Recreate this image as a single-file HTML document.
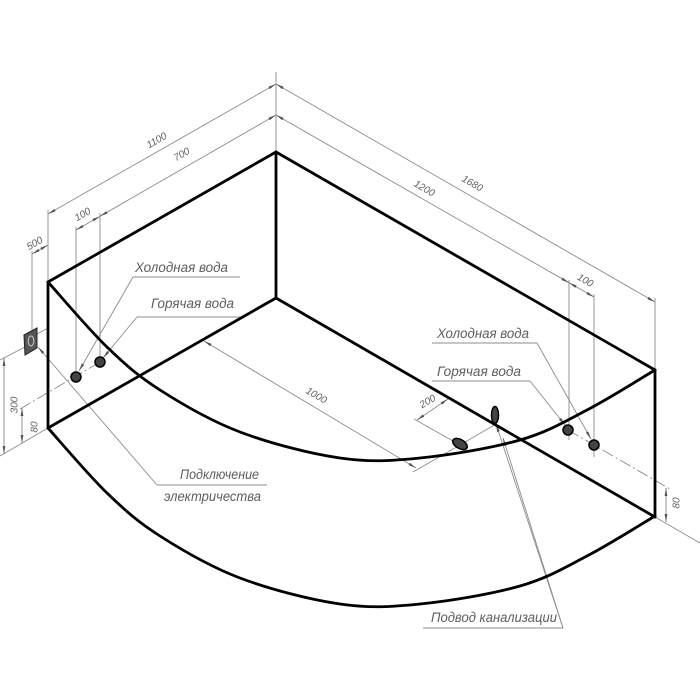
<!DOCTYPE html>
<html>
<head>
<meta charset="utf-8">
<style>
  html,body{margin:0;padding:0;background:#fff;}
  svg{display:block;}
  text{font-family:"Liberation Sans","DejaVu Sans",sans-serif;font-style:italic;fill:#5e5e5e;}
</style>
</head>
<body>
<svg width="700" height="700" viewBox="0 0 700 700" xmlns="http://www.w3.org/2000/svg">
  <defs>
    <marker id="a" viewBox="0 -2 8 4" refX="8" refY="0" markerWidth="8" markerHeight="4" markerUnits="userSpaceOnUse" orient="auto-start-reverse">
      <path d="M0,-1.4L8,0L0,1.4z" fill="#555"/>
    </marker>
  </defs>
  <rect width="700" height="700" fill="#fff"/>

  <!-- thin extension lines -->
  <g stroke="#8c8c8c" stroke-width="0.9" fill="none">
    <line x1="276" y1="72" x2="276" y2="152"/>
    <line x1="48" y1="210" x2="48" y2="282"/>
    <line x1="32" y1="251" x2="32" y2="330"/>
    <line x1="76" y1="227" x2="76" y2="372"/>
    <line x1="100" y1="213" x2="100" y2="357"/>
    <line x1="655" y1="298" x2="655" y2="370"/>
    <line x1="569" y1="280" x2="569" y2="440"/>
    <line x1="594" y1="294" x2="594" y2="457"/>

    <line x1="0" y1="456" x2="48" y2="428"/>
    <line x1="0" y1="360" x2="25" y2="347"/>
    <line x1="37" y1="334" x2="48" y2="328"/>
    <line x1="655" y1="517" x2="700" y2="543"/>
    <line x1="460" y1="445" x2="413" y2="472"/>
    <line x1="460" y1="445" x2="414" y2="419"/>
    <line x1="460" y1="445" x2="496" y2="424"/>

    <!-- underlines -->
    <line x1="133" y1="277" x2="240" y2="277"/>
    <line x1="137" y1="317" x2="240" y2="317"/>
    <line x1="157" y1="485" x2="267" y2="485"/>
    <line x1="432" y1="343" x2="537" y2="343"/>
    <line x1="432" y1="381" x2="530" y2="381"/>
    <line x1="423" y1="628" x2="563" y2="628"/>

    <!-- dash-dot axis lines -->
    <line x1="20" y1="409" x2="100" y2="362" stroke-dasharray="12 3 2 3"/>
    <line x1="568" y1="430" x2="670" y2="489" stroke-dasharray="12 3 2 3"/>
  </g>

  <!-- dimension lines -->
  <g stroke="#8c8c8c" stroke-width="0.9" fill="none" marker-start="url(#a)" marker-end="url(#a)">
    <line x1="48" y1="214" x2="276" y2="84"/>
    <line x1="100" y1="216.3" x2="276" y2="115"/>
    <line x1="76" y1="230" x2="100" y2="216.3"/>
    <line x1="32" y1="254" x2="48" y2="245"/>
    <line x1="276" y1="84" x2="655" y2="302"/>
    <line x1="276" y1="115" x2="569" y2="282.7"/>
    <line x1="569" y1="282.7" x2="594" y2="297"/>
    <line x1="4" y1="358" x2="4" y2="454"/>
    <line x1="22" y1="408" x2="22" y2="443"/>
    <line x1="666" y1="488" x2="666" y2="522"/>
    <line x1="204" y1="341" x2="416" y2="468"/>
    <line x1="417" y1="420" x2="448" y2="399"/>
  </g>

  <!-- leaders -->
  <g stroke="#8c8c8c" stroke-width="0.9" fill="none" marker-end="url(#a)">
    <line x1="133" y1="277" x2="79" y2="371"/>
    <line x1="137" y1="317" x2="103" y2="358"/>
    <line x1="157" y1="485" x2="38" y2="347"/>
    <line x1="537" y1="343" x2="591" y2="439"/>
    <line x1="530" y1="381" x2="565" y2="425"/>
    <line x1="563" y1="628" x2="496" y2="424"/>
    <line x1="563" y1="628" x2="503" y2="438"/>
  </g>

  <!-- thick outline -->
  <g stroke="#000" stroke-width="2.8" fill="none" stroke-linecap="round" stroke-linejoin="round">
    <line x1="48" y1="282" x2="276" y2="152"/>
    <line x1="276" y1="152" x2="655" y2="370"/>
    <line x1="276" y1="152" x2="276" y2="298"/>
    <line x1="48" y1="282" x2="48" y2="428"/>
    <line x1="655" y1="370" x2="655" y2="517"/>
    <line x1="48" y1="428" x2="276" y2="298"/>
    <line x1="276" y1="298" x2="655" y2="517"/>
    <path d="M48,282 C57.8,292.8 88.3,329 107,347 C125.7,365 137.8,375.8 160,390 C182.2,404.2 210,420.7 240,432 C270,443.3 310,453.7 340,458 C370,462.3 390,461 420,458 C450,455 492.2,448 520,440 C547.8,432 564.5,421.7 587,410 C609.5,398.3 643.7,376.7 655,370"/>
    <path transform="translate(0,146)" d="M48,282 C57.8,292.8 88.3,329 107,347 C125.7,365 137.8,375.8 160,390 C182.2,404.2 210,420.7 240,432 C270,443.3 310,453.7 340,458 C370,462.3 390,461 420,458 C450,455 492.2,448 520,440 C547.8,432 564.5,421.7 587,410 C609.5,398.3 643.7,376.7 655,370"/>
  </g>

  <!-- socket -->
  <polygon points="24,335 37,328 37,348 25,355" fill="#555" stroke="#222" stroke-width="1"/>
  <ellipse cx="31" cy="341" rx="2.8" ry="5" fill="none" stroke="#ccc" stroke-width="1"/>

  <!-- holes -->
  <g fill="#444" stroke="#000" stroke-width="1.5">
    <circle cx="76" cy="377" r="5"/>
    <circle cx="100" cy="362" r="5"/>
    <circle cx="568" cy="430" r="5"/>
    <circle cx="594" cy="445" r="5"/>
    <ellipse cx="460" cy="444" rx="8" ry="4.5" transform="rotate(30 460 444)"/>
    <ellipse cx="495" cy="415" rx="3.5" ry="8.5"/>
  </g>

  <!-- labels -->
  <g font-size="13.5">
    <text x="135" y="272" textLength="93" lengthAdjust="spacingAndGlyphs">Холодная вода</text>
    <text x="151" y="308" textLength="83" lengthAdjust="spacingAndGlyphs">Горячая вода</text>
    <text x="180" y="479" textLength="79" lengthAdjust="spacingAndGlyphs">Подключение</text>
    <text x="164" y="501" textLength="97" lengthAdjust="spacingAndGlyphs">электричества</text>
    <text x="437" y="338" textLength="92" lengthAdjust="spacingAndGlyphs">Холодная вода</text>
    <text x="437" y="376" textLength="84" lengthAdjust="spacingAndGlyphs">Горячая вода</text>
    <text x="431" y="622" textLength="126" lengthAdjust="spacingAndGlyphs">Подвод канализации</text>
  </g>

  <!-- dimension numbers -->
  <g font-size="10" text-anchor="middle" dominant-baseline="central">
    <text transform="translate(157,141) rotate(-30)">1100</text>
    <text transform="translate(182,155) rotate(-30)">700</text>
    <text transform="translate(83,215) rotate(-30)">100</text>
    <text transform="translate(35,244) rotate(-30)">500</text>
    <text transform="translate(424,189) rotate(30)">1200</text>
    <text transform="translate(472,184) rotate(30)">1680</text>
    <text transform="translate(585,281) rotate(30)">100</text>
    <text transform="translate(677,503) rotate(-90)">80</text>
    <text transform="translate(15,405) rotate(-90)">300</text>
    <text transform="translate(35,427) rotate(-90)">80</text>
    <text transform="translate(316,396) rotate(30)">1000</text>
    <text transform="translate(428,402) rotate(-30)">200</text>
  </g>
</svg>
</body>
</html>
